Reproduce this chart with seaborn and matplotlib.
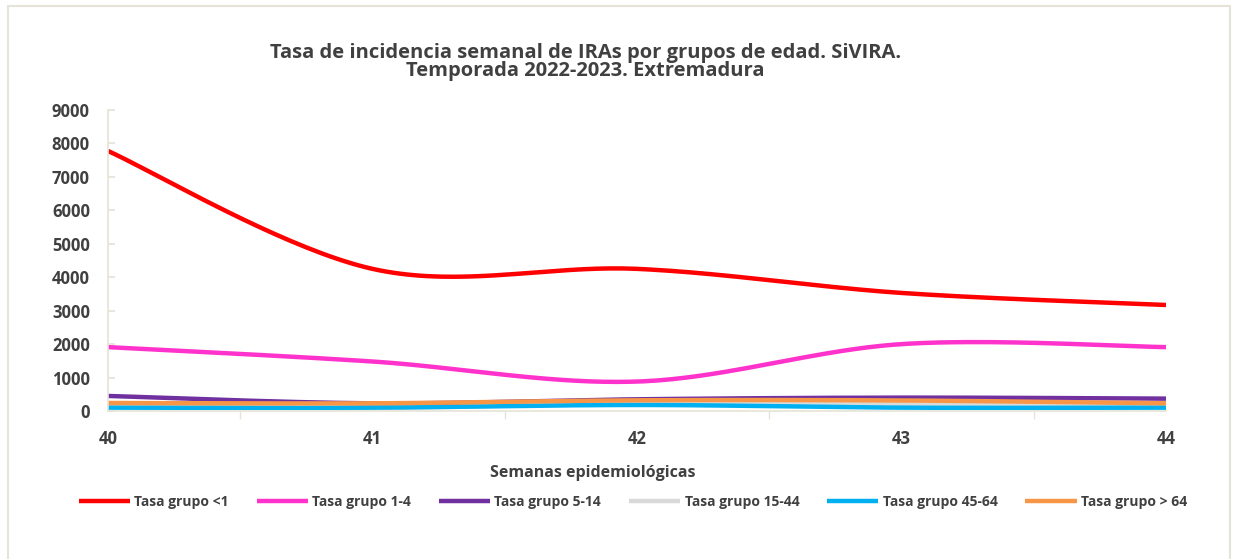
import numpy as np
import pandas as pd
import matplotlib
matplotlib.use("Agg")
import matplotlib.pyplot as plt
from matplotlib.patches import Rectangle
import seaborn as sns

# ---- data ----
semanas = [40, 41, 42, 43, 44]
tasa_menor1 = [7775, 4250, 4250, 3530, 3170]
tasa_1_4 = [1910, 1480, 880, 2000, 1910]
tasa_5_14 = [450, 230, 350, 400, 370]
tasa_15_44 = [140, 90, 230, 200, 180]
tasa_45_64 = [100, 100, 180, 100, 100]
tasa_mayor64 = [240, 230, 320, 315, 230]

series_names = ["Tasa grupo <1", "Tasa grupo 1-4", "Tasa grupo 5-14",
                "Tasa grupo 15-44", "Tasa grupo 45-64", "Tasa grupo > 64"]
series_vals = [tasa_menor1, tasa_1_4, tasa_5_14, tasa_15_44, tasa_45_64, tasa_mayor64]
colors = ["#ff0000", "#ff33cc", "#7030a0", "#d9d9d9", "#00b0f0", "#f79646"]

sns.set_theme(style="white")
plt.rcParams['font.family'] = ['Open Sans', 'DejaVu Sans']
plt.rcParams['font.weight'] = 'bold'

TXT = "#404040"
AXC = "#e6e4d6"


def smooth(x, y, n=40):
    # Excel-style smoothed line: cubic Bezier with Catmull-Rom control points
    x = np.asarray(x, float)
    y = np.asarray(y, float)
    xs, ys = [], []
    t = np.linspace(0, 1, n)
    for i in range(len(x) - 1):
        p0 = i - 1 if i > 0 else i
        p3 = i + 2 if i + 2 < len(x) else i + 1
        c1x = x[i] + (x[i + 1] - x[p0]) / 6
        c1y = y[i] + (y[i + 1] - y[p0]) / 6
        c2x = x[i + 1] - (x[p3] - x[i]) / 6
        c2y = y[i + 1] - (y[p3] - y[i]) / 6
        bx = ((1 - t) ** 3 * x[i] + 3 * (1 - t) ** 2 * t * c1x
              + 3 * (1 - t) * t ** 2 * c2x + t ** 3 * x[i + 1])
        by = ((1 - t) ** 3 * y[i] + 3 * (1 - t) ** 2 * t * c1y
              + 3 * (1 - t) * t ** 2 * c2y + t ** 3 * y[i + 1])
        xs.extend(bx)
        ys.extend(by)
    return np.array(xs), np.array(ys)


fig = plt.figure(figsize=(12.33, 5.59), dpi=100)
ax = fig.add_axes([108 / 1233, 1 - 411 / 559, (1166 - 108) / 1233, (411 - 110) / 559])

# chart border
fig.patches.append(Rectangle((8 / 1233, -0.01), (1230 - 8) / 1233, 1 - 6 / 559 + 0.01,
                             transform=fig.transFigure, fill=False,
                             edgecolor=AXC, linewidth=1.5))

for name, vals, c in zip(series_names, series_vals, colors):
    sx, sy = smooth(semanas, vals)
    df = pd.DataFrame({"x": sx, "y": sy})
    sns.lineplot(data=df, x="x", y="y", sort=False, estimator=None, color=c,
                 linewidth=3.2, label=name, ax=ax, solid_capstyle='butt')

ax.set_xlim(40, 44)
ax.set_ylim(0, 9000)
ax.set_yticks(np.arange(0, 9001, 1000))
ax.set_xticks(semanas)
ax.set_xticks([40.5, 41.5, 42.5, 43.5, 44], minor=True)

for s in ["top", "right"]:
    ax.spines[s].set_visible(False)
for s in ["left", "bottom"]:
    ax.spines[s].set_color(AXC)
    ax.spines[s].set_linewidth(1.2)

ax.tick_params(axis='y', direction='in', length=5, color=AXC, labelsize=12,
               labelcolor=TXT, pad=13, left=True)
ax.tick_params(axis='x', which='major', length=0, labelsize=12, labelcolor=TXT, pad=14)
ax.tick_params(axis='x', which='minor', direction='out', length=6, color=AXC, bottom=True)
for lab in ax.get_xticklabels() + ax.get_yticklabels():
    lab.set_fontweight('bold')

ax.set_xlabel("Semanas epidemiológicas", fontsize=11.5, fontweight='bold', color=TXT)
ax.xaxis.set_label_coords((593 - 108) / (1166 - 108), -(465 - 411) / (411 - 110))
ax.set_ylabel("")

fig.text(0.475, 1 - 62 / 559,
         "Tasa de incidencia semanal de IRAs por grupos de edad. SiVIRA.\nTemporada 2022-2023. Extremadura",
         ha='center', va='center', fontsize=14.5, fontweight='bold', color=TXT, linespacing=0.85)

ax.legend(loc='center', bbox_to_anchor=(633 / 1233, 1 - 502 / 559), bbox_transform=fig.transFigure,
          ncol=6, frameon=False, handlelength=3.7, columnspacing=2.0,
          handletextpad=0.3, labelcolor=TXT, prop={'weight': 'bold', 'size': 10})

fig.savefig("out.png", dpi=100, facecolor="white")
